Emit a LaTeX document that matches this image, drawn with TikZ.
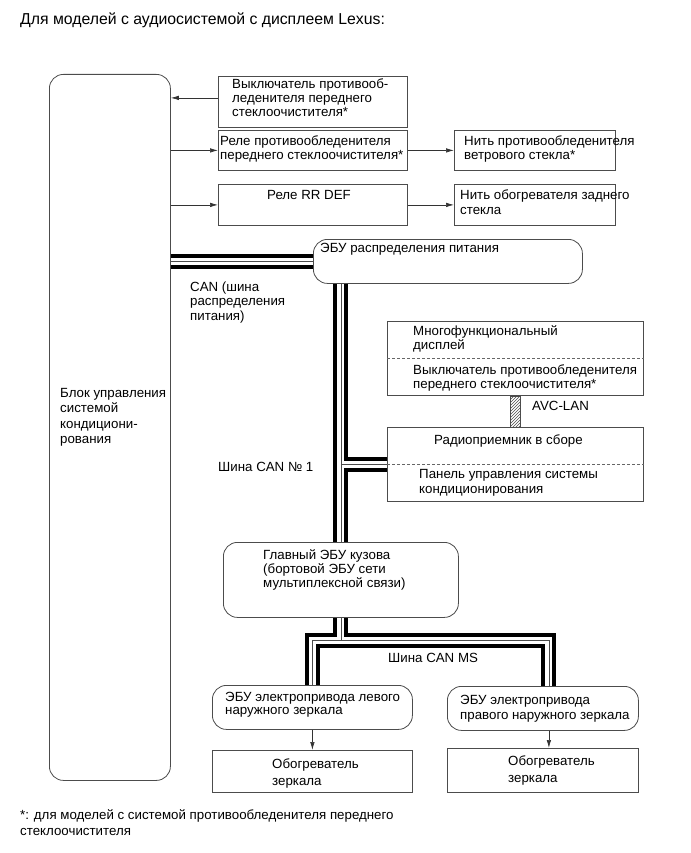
\documentclass[tikz,border=0pt]{standalone}
\usepackage{fontspec}
\setmainfont{Liberation Sans}
\usetikzlibrary{arrows.meta,patterns,calc,backgrounds}

\begin{document}
\begin{tikzpicture}[x=1pt,y=-1pt,
	box/.style={draw=black!70,line width=0.8pt,inner sep=0pt,anchor=north west},
	rbox/.style={box,rounded corners=14pt},
	txt/.style={inner sep=0pt,anchor=base west,align=left,font=\fontsize{13.3}{14}\selectfont},
	arr/.style={draw=black!80,line width=0.7pt,-{Latex[length=8pt,width=4.5pt]}},
	divider/.style={draw=black!60,line width=0.6pt,dash pattern=on 3pt off 2pt}]
	\useasboundingbox (0,0) rectangle (690,853);
	\node[txt,font=\fontsize{15.8}{17}\selectfont] (title) at (20,25) {Для моделей с аудиосистемой с дисплеем Lexus:};
	\node[rbox,minimum width=121pt,minimum height=706pt] (clim) at (49,74) {};
	\node[txt,font=\fontsize{13.3}{15.5}\selectfont] (climtxt) at (60,443.5) {Блок управления\\системой\\кондициони-\\рования};
	\node[box,minimum width=189pt,minimum height=51pt] (defsw) at (218,76) {};
	\node[txt] (defswtxt) at (232,117) {Выключатель противооб-\\леденителя переднего\\стеклоочистителя*};
	\node[box,minimum width=189pt,minimum height=40pt] (defrly) at (218,130) {};
	\node[txt] (defrlytxt) at (220,160) {Реле противообледенителя\\переднего стеклоочистителя*};
	\node[box,minimum width=161pt,minimum height=40pt] (defwire) at (454,130) {};
	\node[txt] (defwiretxt) at (464,160) {Нить противообледенителя\\ветрового стекла*};
	\node[box,minimum width=189pt,minimum height=41pt] (rrdef) at (218,184) {};
	\node[txt] (rrdeftxt) at (267,200) {Реле RR DEF};
	\node[box,minimum width=161pt,minimum height=41pt] (rrwire) at (454,184) {};
	\node[txt] (rrwiretxt) at (460,214) {Нить обогревателя заднего\\стекла};
	\node[rbox,minimum width=269pt,minimum height=44pt] (pwr) at (313,239) {};
	\node[txt] (pwrtxt) at (320,252) {ЭБУ распределения питания};
	\node[txt,font=\fontsize{13.3}{14.5}\selectfont] (canpwr) at (190,320) {CAN (шина\\распределения\\питания)};
	\node[box,minimum width=256pt,minimum height=74pt] (mfd) at (387,321) {};
	\node[txt] (mfdtxt) at (413,349) {Многофункциональный\\дисплей};
	\node[txt] (mfdsw) at (413,388) {Выключатель противообледенителя\\переднего стеклоочистителя*};
	\node[txt] (avc) at (532,410) {AVC-LAN};
	\node[box,minimum width=256pt,minimum height=74pt] (radio) at (387,427) {};
	\node[txt] (radiotxt) at (434,444) {Радиоприемник в сборе};
	\node[txt,font=\fontsize{13.3}{15}\selectfont] (acpanel) at (419,493) {Панель управления системы\\кондиционирования};
	\node[txt] (can1) at (218,471) {Шина CAN № 1};
	\node[rbox,minimum width=235pt,minimum height=75pt] (body) at (223,542) {};
	\node[txt] (bodytxt) at (263,587) {Главный ЭБУ кузова\\(бортовой ЭБУ сети\\мультиплексной связи)};
	\node[txt] (canms) at (388,662) {Шина CAN MS};
	\node[rbox,minimum width=200pt,minimum height=44pt] (ecuL) at (212,685) {};
	\node[txt,font=\fontsize{13.3}{13.5}\selectfont] (ecuLtxt) at (225,714.5) {ЭБУ электропривода левого\\наружного зеркала};
	\node[rbox,minimum width=191pt,minimum height=44pt] (ecuR) at (447,686) {};
	\node[txt,font=\fontsize{13.3}{14.5}\selectfont] (ecuRtxt) at (460,719) {ЭБУ электропривода\\правого наружного зеркала};
	\node[box,minimum width=200pt,minimum height=42pt] (htrL) at (212,750) {};
	\node[txt,font=\fontsize{13.3}{16.5}\selectfont] (htrLtxt) at (272,785) {Обогреватель\\зеркала};
	\node[box,minimum width=191pt,minimum height=44pt] (htrR) at (447,748) {};
	\node[txt,font=\fontsize{13.3}{16.5}\selectfont] (htrRtxt) at (508,782) {Обогреватель\\зеркала};
	\node[txt,font=\fontsize{13.3}{16}\selectfont] (note) at (20,835) {*: для моделей с системой противообледенителя переднего\\стеклоочистителя};
	\draw[divider] (mfd.west) -- (mfd.east);
	\draw[divider] (radio.west) -- (radio.east);
	\draw[draw=black!70,line width=0.6pt,pattern=north east lines,pattern color=black!70] ([xshift=-5pt]mfd.south) rectangle ([xshift=5pt]radio.north);
	\coordinate (swout) at ([yshift=4pt]defsw.west);
	\draw[arr] (swout) -- (swout -| clim.east);
	\draw[arr] (defrly.west -| clim.east) -- (defrly.west);
	\draw[arr] (defrly.east) -- (defwire.west);
	\draw[arr] (rrdef.west -| clim.east) -- (rrdef.west);
	\draw[arr] (rrdef.east) -- (rrwire.west);
	\draw[arr] (ecuL.south) -- (htrL.north);
	\draw[arr] ([xshift=6pt]ecuR.south) -- ([xshift=6pt]htrR.north);
	\coordinate (ms) at ($(body.south)+(0,23)$);
	\begin{pgfonlayer}{background}
		\foreach \w/\c in {15/black,7/white,0.8/black!70}{
			\draw[line width=\w pt,\c] (pwr.west -| clim.east) -- (pwr.west);
			\draw[line width=\w pt,\c] (body.north |- pwr.south) -- (body.north);
			\draw[line width=\w pt,\c] (radio.west -| body.north) -- (radio.west);
			\draw[line width=\w pt,\c] (body.south) -- (ms);
			\draw[line width=\w pt,\c] (ecuL.north) |- (ms) -| ([xshift=6pt]ecuR.north);
		}
	\end{pgfonlayer}
\end{tikzpicture}
\end{document}
